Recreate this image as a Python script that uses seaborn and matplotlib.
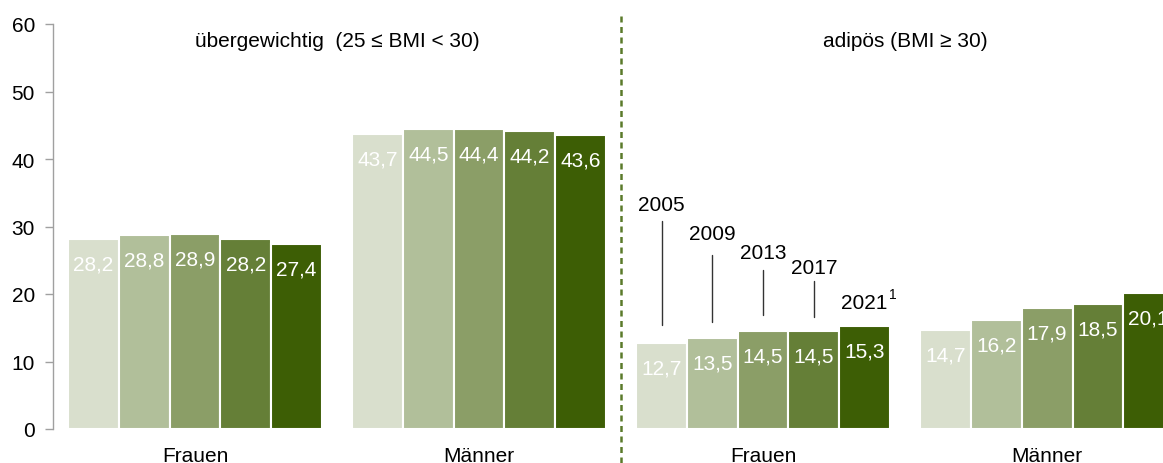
import numpy as np
import pandas as pd
import matplotlib
matplotlib.use("Agg")
import matplotlib.pyplot as plt
import seaborn as sns

# ---- data ----
groups = ["übergewichtig Frauen", "übergewichtig Männer", "adipös Frauen", "adipös Männer"]
tick_labels = ["Frauen", "Männer", "Frauen", "Männer"]
years = ["2005", "2009", "2013", "2017", "2021"]
v2005 = [28.2, 43.7, 12.7, 14.7]
v2009 = [28.8, 44.5, 13.5, 16.2]
v2013 = [28.9, 44.4, 14.5, 17.9]
v2017 = [28.2, 44.2, 14.5, 18.5]
v2021 = [27.4, 43.6, 15.3, 20.1]
year_texts = ["2005", "2009", "2013", "2017", "2021"]
footnote_mark = "1"
section_titles = ["übergewichtig  (25 ≤ BMI < 30)", "adipös (BMI ≥ 30)"]

# ---- layout / style ----
palette = ["#d9dfcd", "#b1bf9a", "#8b9e67", "#657f37", "#3d5e05"]
year_text_y = [33.3, 28.9, 26.2, 24.0, 18.8]
year_line_top = [30.8, 25.8, 23.6, 21.9, None]
year_line_bottom = [15.4, 15.9, 16.9, 16.6, None]
TXT = "#000000"

rows = []
for y, vals in zip(years, [v2005, v2009, v2013, v2017, v2021]):
    for g, v in zip(groups, vals):
        rows.append({"group": g, "year": y, "value": v})
df = pd.DataFrame(rows)

sns.set_style("white")
plt.rcParams["font.family"] = ["Liberation Sans", "DejaVu Sans"]

fig = plt.figure(figsize=(11.63, 4.64), dpi=100)
ax = fig.add_axes([53 / 1163, 34 / 464, 1 - 53 / 1163, 405 / 464])

sns.barplot(data=df, x="group", y="value", hue="year", order=groups, hue_order=years,
            palette=palette, width=0.894, edgecolor="white", linewidth=1.5,
            saturation=1, legend=False, ax=ax)

ax.set_xlim(-0.5, 3.408)
ax.set_ylim(0, 60)
ax.set_yticks(range(0, 61, 10))
ax.set_xticks(range(4))
ax.set_xticklabels(tick_labels)
ax.set_xlabel("")
ax.set_ylabel("")
ax.tick_params(axis="y", labelsize=15, length=6, width=1, color="#a0a0a0", pad=7, left=True,
               labelcolor=TXT)
ax.tick_params(axis="x", labelsize=15, length=0, pad=12, labelcolor=TXT)
for s in ["top", "right", "bottom"]:
    ax.spines[s].set_visible(False)
ax.spines["left"].set_color("#a0a0a0")
ax.spines["left"].set_linewidth(1)

# value labels inside bars
for cont in ax.containers:
    for p in cont:
        h = p.get_height()
        ax.annotate(f"{h:.1f}".replace(".", ","), (p.get_x() + p.get_width() / 2, h),
                    xytext=(0, -18), textcoords="offset points", ha="center", va="center",
                    color="white", fontsize=15)

# year annotations over adipös Frauen bars
for i, cont in enumerate(ax.containers):
    p = cont[2]
    xc = p.get_x() + p.get_width() / 2
    ax.text(xc, year_text_y[i], year_texts[i], ha="center", va="center", fontsize=15, color=TXT)
    if i == len(year_texts) - 1:
        ax.annotate(footnote_mark, (xc, year_text_y[i]), xytext=(17.5, 5.5),
                    textcoords="offset points", ha="left", va="center", fontsize=10, color=TXT)
    if year_line_top[i] is not None:
        ax.plot([xc, xc], [year_line_bottom[i], year_line_top[i]], color="#333333", lw=1)

# section titles
ax.text(0.5, 57.5, section_titles[0], ha="center", va="center", fontsize=15, color=TXT)
ax.text(2.5, 57.5, section_titles[1], ha="center", va="center", fontsize=15, color=TXT)

# dashed separator
ax.axvline(1.5, ymin=-0.084, ymax=1.025, color="#5a7a2a", lw=1.8, ls=(0, (2.4, 1.8)), clip_on=False)

fig.savefig("out.png", dpi=100)
